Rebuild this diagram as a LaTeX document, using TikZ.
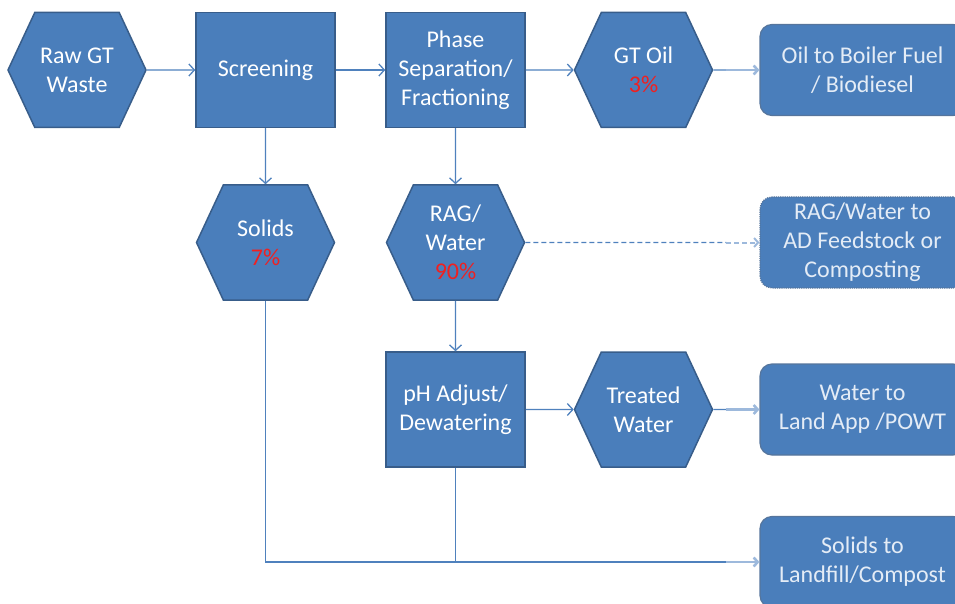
\documentclass[tikz,border=0pt]{standalone}
\usepackage{fontspec}
\setmainfont{Carlito}
\usetikzlibrary{shapes.symbols,arrows.meta,positioning}
\definecolor{boxblue}{HTML}{4A7EBB}
\definecolor{edgeblue}{HTML}{385D8A}
\definecolor{linkblue}{HTML}{4F81BD}
\definecolor{feedblue}{HTML}{9DB9DC}
\definecolor{pct}{HTML}{F02020}
\definecolor{paletext}{HTML}{E4ECF6}
\begin{document}
\begin{tikzpicture}[x=1pt,y=-1pt,
    stage/.style={draw=edgeblue, line width=1.5pt, fill=boxblue, text=white,
      align=center, font=\fontsize{24}{29}\selectfont, inner sep=0pt,
      minimum width=139pt, minimum height=115pt},
    hexa/.style={stage, shape=signal, signal to=west and east,
      signal pointer angle=130, minimum width=138pt},
    outlet/.style={draw=edgeblue!85, line width=1.2pt, fill=boxblue,
      rounded corners=12pt, text=paletext, align=center,
      font=\fontsize{24}{29}\selectfont, minimum width=205pt, minimum height=91pt},
    link/.style={draw=linkblue, line width=1.3pt},
    arrow/.style={link, -{Straight Barb[length=5.5pt,width=12pt]}},
    feed/.style={draw=feedblue, line width=2.6pt, -{Straight Barb[length=4pt,width=9pt]}}]
  \useasboundingbox (0,0) rectangle (955,604);

  % first row
  \node[hexa] (raw) at (77,70) {Raw GT\\Waste};
  \node[stage] (screen) at (265.5,70) {Screening};
  \node[stage] (phase) at (455.5,70) {Phase\\Separation/\\Fractioning};
  \node[hexa] (oil) at (643.5,70) {GT Oil\\\textcolor{pct}{3\%}};
  \node[outlet] (boiler) at (862.5,70) {Oil to Boiler Fuel\\/ Biodiesel};

  % second row
  \node[hexa] (solids) at (265.5,242.5) {Solids\\\textcolor{pct}{7\%}};
  \node[hexa] (rag) at (455.5,242.5) {RAG/\\Water\\\textcolor{pct}{90\%}};
  \node[outlet, densely dotted] (feedstock) at (862.5,242.5) {RAG/Water to\\AD Feedstock or\\Composting};

  % third row
  \node[stage] (ph) at (455.5,409.5) {pH Adjust/\\Dewatering};
  \node[hexa] (treated) at (643.5,409.5) {Treated\\Water};
  \node[outlet] (landapp) at (862.5,409.5) {Water to\\Land App /POWT};

  \node[outlet] (landfill) at (862.5,562) {Solids to\\Landfill/Compost};

  \coordinate[left=33pt of boiler.west] (tap1);
  \coordinate[left=33pt of feedstock.west] (tap2);
  \coordinate[left=33pt of landapp.west] (tap3);
  \coordinate[left=33pt of landfill.west] (tap4);
  \coordinate (merge) at (ph.south |- landfill.west);

  \draw[arrow] (raw) -- (screen);
  \draw[arrow] (screen) -- (phase);
  \draw[arrow] (phase) -- (oil);
  \draw[arrow] (screen) -- (solids);
  \draw[arrow] (phase) -- (rag);
  \draw[arrow] (rag) -- (ph);
  \draw[arrow] (ph) -- (treated);

  \draw[link] (oil) -- (tap1);
  \draw[feed] (tap1) -- (boiler);
  \draw[link, dash pattern=on 5pt off 3pt] (rag) -- (tap2);
  \draw[feed, line width=2pt, dash pattern=on 5pt off 3pt] (tap2) -- (feedstock);
  \draw[link] (treated) -- (tap3);
  \draw[feed] (tap3) -- (landapp);
  \draw[link] (solids) |- (tap4);
  \draw[link] (ph) -- (merge);
  \draw[feed] (tap4) -- (landfill);
\end{tikzpicture}
\end{document}
